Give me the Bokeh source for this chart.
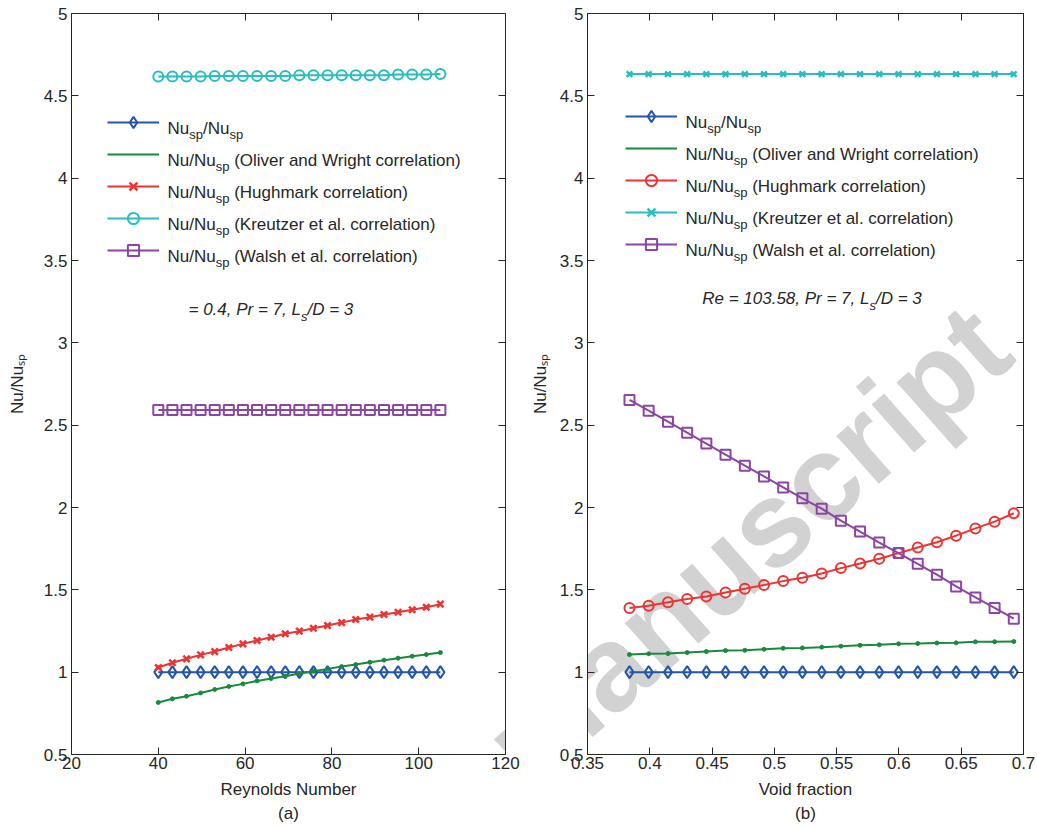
import math
from bokeh.plotting import figure
from bokeh.models import LinearAxis, FixedTicker, PrintfTickFormatter, Label, Legend, LegendItem
from bokeh.layouts import row
from bokeh.embed import file_html
from bokeh.resources import INLINE

# ---------------- data ----------------
re_number = [40.0, 43.25, 46.5, 49.75, 53.0, 56.25, 59.5, 62.75, 66.0, 69.25, 72.5,
             75.75, 79.0, 82.25, 85.5, 88.75, 92.0, 95.25, 98.5, 101.75, 105.0]
nu_sp_a = [1.0, 1.0, 1.0, 1.0, 1.0, 1.0, 1.0, 1.0, 1.0, 1.0, 1.0,
           1.0, 1.0, 1.0, 1.0, 1.0, 1.0, 1.0, 1.0, 1.0, 1.0]
oliver_a = [0.816, 0.838, 0.854, 0.874, 0.895, 0.913, 0.929, 0.947, 0.961, 0.975, 0.992,
            1.006, 1.020, 1.034, 1.046, 1.060, 1.073, 1.085, 1.097, 1.107, 1.119]
hughmark_a = [1.028, 1.057, 1.081, 1.105, 1.125, 1.150, 1.172, 1.192, 1.212, 1.233, 1.249,
              1.267, 1.283, 1.301, 1.320, 1.334, 1.350, 1.364, 1.379, 1.394, 1.413]
kreutzer_a = [4.617, 4.617, 4.617, 4.617, 4.621, 4.621, 4.621, 4.621, 4.621, 4.621, 4.625,
              4.625, 4.625, 4.625, 4.625, 4.625, 4.625, 4.629, 4.629, 4.629, 4.633]
walsh_a = [2.592, 2.592, 2.592, 2.592, 2.592, 2.592, 2.592, 2.592, 2.592, 2.592, 2.592,
           2.592, 2.592, 2.592, 2.592, 2.592, 2.592, 2.592, 2.592, 2.592, 2.592]

void_fraction = [0.3837, 0.3991, 0.4146, 0.4300, 0.4454, 0.4608, 0.4763, 0.4917, 0.5071, 0.5225, 0.5380,
                 0.5534, 0.5688, 0.5842, 0.5997, 0.6151, 0.6305, 0.6459, 0.6614, 0.6768, 0.6922]
nu_sp_b = [1.0, 1.0, 1.0, 1.0, 1.0, 1.0, 1.0, 1.0, 1.0, 1.0, 1.0,
           1.0, 1.0, 1.0, 1.0, 1.0, 1.0, 1.0, 1.0, 1.0, 1.0]
oliver_b = [1.107, 1.112, 1.113, 1.119, 1.125, 1.131, 1.133, 1.139, 1.145, 1.147, 1.152,
            1.158, 1.163, 1.166, 1.172, 1.174, 1.177, 1.178, 1.184, 1.185, 1.186]
hughmark_b = [1.390, 1.404, 1.424, 1.444, 1.460, 1.484, 1.507, 1.529, 1.553, 1.573, 1.599,
              1.632, 1.660, 1.689, 1.723, 1.757, 1.789, 1.829, 1.873, 1.914, 1.965]
kreutzer_b = [4.632, 4.632, 4.632, 4.632, 4.632, 4.632, 4.632, 4.632, 4.632, 4.632, 4.632,
              4.632, 4.632, 4.632, 4.632, 4.632, 4.632, 4.632, 4.632, 4.632, 4.632]
walsh_b = [2.653, 2.588, 2.521, 2.454, 2.388, 2.321, 2.254, 2.189, 2.122, 2.056, 1.993,
           1.920, 1.854, 1.787, 1.723, 1.658, 1.592, 1.521, 1.454, 1.390, 1.325]

x_ticks_a = [20, 40, 60, 80, 100, 120]
x_ticks_b = [0.35, 0.4, 0.45, 0.5, 0.55, 0.6, 0.65, 0.7]
y_ticks = [0.5, 1, 1.5, 2, 2.5, 3, 3.5, 4, 4.5, 5]

legend_names = ["(Oliver and Wright correlation)", "(Hughmark correlation)",
                "(Kreutzer et al. correlation)", "(Walsh et al. correlation)"]
y_label = "Nu/Nu\u209b\u209a"

# ---------------- style ----------------
FONT = "Liberation Sans"
TXT = "#262626"
BLUE, GREEN, RED, CYAN, PURPLE = "#2356a8", "#178a3e", "#ee3333", "#2abdbd", "#8b45a3"
FS = 17      # main font size
SUB = 13     # subscript font size

CW = {" ": 278, "(": 333, ")": 333, "/": 278, ".": 278, ",": 278, "=": 584,
      "A": 667, "D": 722, "H": 722, "K": 667, "L": 556, "N": 722, "O": 778, "P": 667,
      "R": 722, "W": 944, "a": 556, "c": 500, "d": 556, "e": 556, "g": 556, "h": 556,
      "i": 222, "k": 500, "l": 222, "m": 833, "n": 556, "o": 556, "p": 556, "r": 333,
      "s": 500, "t": 278, "u": 556, "v": 500, "w": 722, "z": 500, "y": 500, "f": 278}


def tw(s, size):
    return sum(CW.get(c, 556) for c in s) * size / 1000.0


# page geometry (pixels in the 1037x827 page; the page has no margin)
FRAME_TOP, FRAME_H = 13, 741


def make_panel(xs, series, x_range, x_ticks, frame_left, frame_w, bl, br, ylab_standoff,
               xlabel, legend_row0, glyph_left, text_x, annot_parts, annot_x, annot_base):
    x0, x1 = x_range

    def fx(px):
        return x0 + (px - frame_left) * (x1 - x0) / frame_w

    def fy(py):
        return 5 - (py - FRAME_TOP) * 4.5 / FRAME_H

    p = figure(frame_width=frame_w, frame_height=FRAME_H, x_range=x_range, y_range=(0.5, 5),
               output_backend="svg", toolbar_location=None,
               min_border_left=bl, min_border_right=br, min_border_top=FRAME_TOP,
               min_border_bottom=73)
    p.xgrid.visible = False
    p.ygrid.visible = False
    p.outline_line_color = None
    p.background_fill_color = "white"
    p.border_fill_color = "white"

    p.xaxis.ticker = FixedTicker(ticks=x_ticks)
    p.yaxis.ticker = FixedTicker(ticks=y_ticks)
    p.xaxis.formatter = PrintfTickFormatter(format="%g")
    p.yaxis.formatter = PrintfTickFormatter(format="%g")
    p.xaxis.axis_label = xlabel
    p.yaxis.axis_label = y_label
    for ax in (p.xaxis[0], p.yaxis[0]):
        ax.axis_line_color = TXT
        ax.major_tick_in = 7
        ax.major_tick_out = 0
        ax.major_tick_line_color = TXT
        ax.minor_tick_line_color = None
        ax.major_label_text_font = FONT
        ax.major_label_text_font_size = f"{FS}px"
        ax.major_label_text_color = TXT
        ax.axis_label_text_font = FONT
        ax.axis_label_text_font_size = f"{FS}px"
        ax.axis_label_text_font_style = "normal"
        ax.axis_label_text_color = TXT
    p.xaxis.major_label_standoff = 2
    p.xaxis.axis_label_standoff = 8
    p.xaxis.axis_label_text_line_height = 1.3
    p.yaxis.major_label_standoff = 4
    p.yaxis.axis_label_standoff = ylab_standoff
    # mirror axes (box with inward ticks)
    for loc, tk in (("above", x_ticks), ("right", y_ticks)):
        ax = LinearAxis(ticker=FixedTicker(ticks=tk), major_label_text_font_size="0px",
                        major_label_standoff=0, major_tick_in=7, major_tick_out=0,
                        axis_line_color=TXT, major_tick_line_color=TXT, minor_tick_line_color=None,
                        major_label_overrides={t: "" for t in tk})
        p.add_layout(ax, loc)

    # watermark, under the data (clipped to the frame)
    p.add_layout(Label(x=fx(990), y=fy(328), text="Accepted manuscript", angle=0.725,
                       text_font=FONT, text_font_style="bold", text_font_size="121px",
                       text_color="#d2d2d2", text_align="right", text_baseline="alphabetic",
                       level="underlay"))

    items = []
    for ys, color, marker, msize, mfill, lw, leg_marker in series:
        ln = p.line(xs, ys, line_color=color, line_width=2)
        sc = p.scatter(xs, ys, marker=marker, size=msize, line_color=color,
                       line_width=lw, fill_color=mfill)
        items.append(LegendItem(label=" ", renderers=[ln, sc] if leg_marker else [ln]))

    glyph_w, item_h, spacing = 52, 28, 4
    leg_h = 5 * item_h + 4 * spacing
    legend_top = legend_row0 - item_h / 2
    legend = Legend(items=items, location=(glyph_left - frame_left,
                                           (FRAME_TOP + FRAME_H) - (legend_top + leg_h)),
                    glyph_width=glyph_w, glyph_height=item_h, label_height=item_h,
                    spacing=spacing, padding=0, margin=0, border_line_color=None,
                    background_fill_alpha=0, label_text_font_size="1px", label_standoff=0)
    p.add_layout(legend)

    def rich(parts, px, base, style="normal", sub_drop=6):
        x = px
        for txt, is_sub in parts:
            size = SUB if is_sub else FS
            yb = base + (sub_drop if is_sub else 0)
            lead = len(txt) - len(txt.lstrip(" "))
            x += tw(" " * lead, size)
            body = txt.lstrip(" ")
            p.add_layout(Label(x=fx(x), y=fy(yb), text=body, text_font=FONT,
                               text_font_size=f"{size}px", text_font_style=style,
                               text_color=TXT, text_align="left", text_baseline="alphabetic"))
            x += tw(body, size)

    # legend texts
    for i in range(5):
        yc = legend_row0 + i * (item_h + spacing)
        if i == 0:
            parts = [("Nu", False), ("sp", True), ("/Nu", False), ("sp", True)]
        else:
            parts = [("Nu/Nu", False), ("sp", True), (" " + legend_names[i - 1], False)]
        rich(parts, text_x, yc + 6.5)

    # annotation
    rich(annot_parts, annot_x, annot_base, style="italic", sub_drop=7)
    return p


series_a = [
    (nu_sp_a, BLUE, "diamond", 12, None, 2, True),
    (oliver_a, GREEN, "circle", 4, GREEN, 1, False),
    (hughmark_a, RED, "x", 9, None, 2.5, True),
    (kreutzer_a, CYAN, "circle", 10, None, 2, True),
    (walsh_a, PURPLE, "square", 10, None, 2, True),
]
series_b = [
    (nu_sp_b, BLUE, "diamond", 12, None, 2, True),
    (oliver_b, GREEN, "circle", 4, GREEN, 1, False),
    (hughmark_b, RED, "circle", 10, None, 2, True),
    (kreutzer_b, CYAN, "x", 8, None, 2.5, True),
    (walsh_b, PURPLE, "square", 10, None, 2, True),
]

# left canvas: 71 + 434 + 16 = 521 px ; right canvas: 66 + 436 + 14 = 516 px
pa = make_panel(re_number, series_a, (20, 120), x_ticks_a, 71, 434, 71, 16, 14,
                "Reynolds Number\n(a)", 121.5, 107, 167,
                [("= 0.4, Pr = 7, L", False), ("s", True), ("/D = 3", False)], 188, 309)
pb = make_panel(void_fraction, series_b, (0.35, 0.7), x_ticks_b, 587, 436, 66, 14, 7,
                "Void fraction\n(b)", 115.7, 625, 685,
                [("Re = 103.58, Pr = 7, L", False), ("s", True), ("/D = 3", False)], 701.7, 297.7)

layout = row(pa, pb, spacing=0)
open("out.html", "w").write(file_html(layout, INLINE))
